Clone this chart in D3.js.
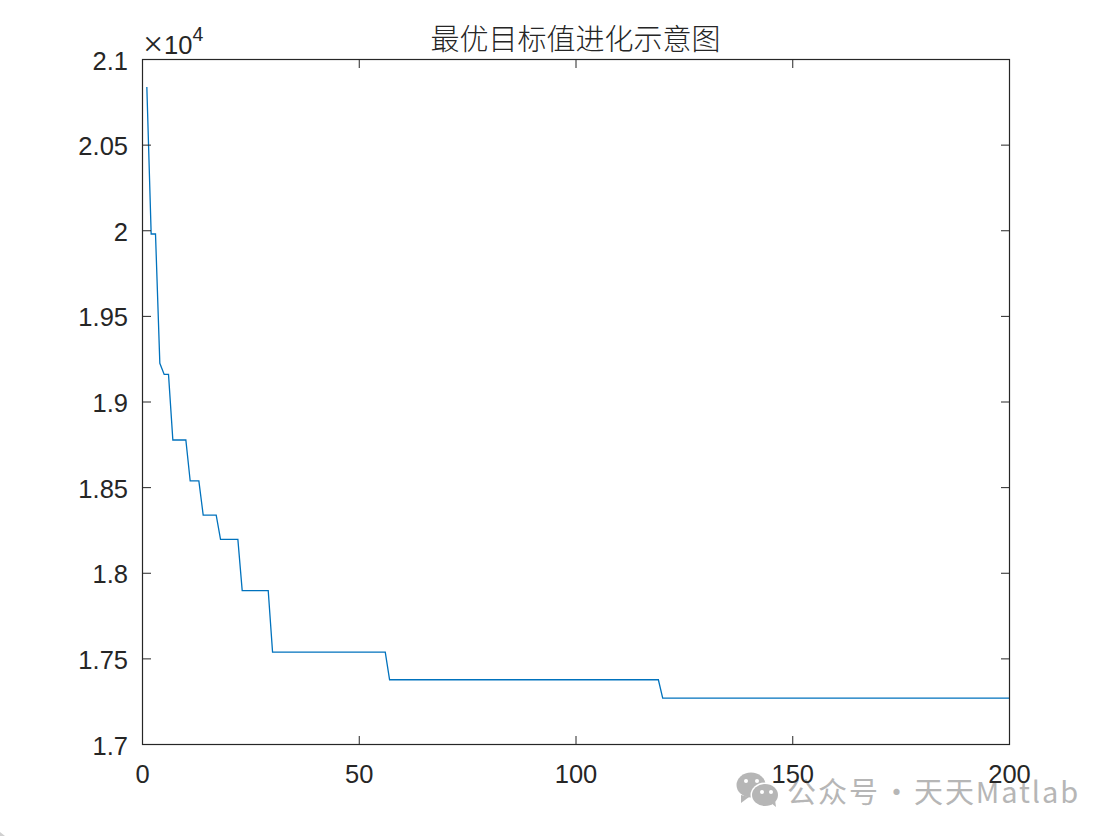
<!DOCTYPE html>
<html><head><meta charset="utf-8">
<script src="https://cdn.jsdelivr.net/npm/d3@7"></script>
<style>html,body{margin:0;padding:0;background:#fff}svg{display:block}</style>
</head><body><div id="c"></div>
<script>
const titleText = "最优目标值进化示意图";
const watermarkLeft = "公众号";
const watermarkDot = "·";
const watermarkRight = "天天Matlab";
const generations = [1,2,3,4,5,6,7,10,11,13,14,17,18,22,23,29,30,56,57,119,120,200];
const bestValues = [20839,19981,19981,19226,19161,19161,18778,18778,18539,18539,18340,18340,18198,18198,17899,17899,17540,17540,17378,17378,17271,17271];
const xTicks = [0,50,100,150,200];
const yTicks = [17000,17500,18000,18500,19000,19500,20000,20500,21000];
const yTickLabels = ["1.7","1.75","1.8","1.85","1.9","1.95","2","2.05","2.1"];

const W=1114,H=836,m={l:142.5,r:1009.5,t:59.5,b:744.5};
const x=d3.scaleLinear().domain([0,200]).range([m.l,m.r]);
const y=d3.scaleLinear().domain([17000,21000]).range([m.b,m.t]);
const svg=d3.select("#c").append("svg").attr("width",W).attr("height",H);
const ink="#262626",font="'Liberation Sans',Arial,sans-serif",fs=25.5,cjk="'Noto Sans CJK SC'",wm="#b6b6b6";
svg.append("rect").attr("width",W).attr("height",H).attr("fill","#fff");

// watermark (sits under the tick labels)
const w=svg.append("g").attr("fill",wm);
w.append("ellipse").attr("cx",751).attr("cy",785).attr("rx",14.5).attr("ry",12.5);
w.append("path").attr("d","M741 795L741 803L749 797Z");
w.append("ellipse").attr("cx",765).attr("cy",795).attr("rx",14.5).attr("ry",12.5).attr("fill","#fff");
w.append("ellipse").attr("cx",765).attr("cy",795).attr("rx",13).attr("ry",11);
w.append("path").attr("d","M771 803L776 807L775 800Z");
[[746,781],[757,781],[762,792],[771,792]].forEach(p=>w.append("circle").attr("cx",p[0]).attr("cy",p[1]).attr("r",2).attr("fill","#fff"));
const wt=(tx,t,ls)=>w.append("text").attr("x",tx).attr("y",803).attr("font-family",cjk).attr("font-size",29).attr("letter-spacing",ls).text(t);
wt(787,watermarkLeft,2); wt(882,watermarkDot,0); wt(914,watermarkRight,1.9);
svg.append("path").attr("d","M0 832L0 836L5 836Z").attr("fill","#d0d0d0");

const line=d3.line().x((d,i)=>x(generations[i])).y(d=>y(d));
svg.append("path").datum(bestValues).attr("d",line).attr("fill","none").attr("stroke","#0072BD").attr("stroke-width",1.3);

svg.append("rect").attr("x",m.l).attr("y",m.t).attr("width",m.r-m.l).attr("height",m.b-m.t).attr("fill","none").attr("stroke",ink).attr("stroke-width",1.2);

const tl=8.5;
const gx=svg.append("g").selectAll("g").data(xTicks).join("g");
gx.append("line").attr("x1",d=>x(d)).attr("x2",d=>x(d)).attr("y1",m.b).attr("y2",m.b-tl).attr("stroke",ink);
gx.append("line").attr("x1",d=>x(d)).attr("x2",d=>x(d)).attr("y1",m.t).attr("y2",m.t+tl).attr("stroke",ink);
gx.append("text").attr("x",d=>x(d)).attr("y",783).attr("text-anchor","middle").attr("font-family",font).attr("font-size",fs).attr("fill",ink).text(d=>d);
const gy=svg.append("g").selectAll("g").data(yTicks).join("g");
gy.append("line").attr("y1",d=>y(d)).attr("y2",d=>y(d)).attr("x1",m.l).attr("x2",m.l+tl).attr("stroke",ink);
gy.append("line").attr("y1",d=>y(d)).attr("y2",d=>y(d)).attr("x1",m.r).attr("x2",m.r-tl).attr("stroke",ink);
gy.append("text").attr("x",128).attr("y",d=>y(d)+10).attr("text-anchor","end").attr("font-family",font).attr("font-size",fs).attr("fill",ink).text((d,i)=>yTickLabels[i]);

svg.append("text").attr("x",143).attr("y",56).attr("font-family","'Liberation Serif'").attr("font-size",36).attr("font-weight",300).attr("fill",ink).text("×");
svg.append("text").attr("x",164).attr("y",54).attr("font-family",font).attr("font-size",fs).attr("fill",ink)
  .text("10").append("tspan").attr("dy",-13).attr("font-size",19.5).text("4");
svg.append("text").attr("x",575.5).attr("y",50).attr("text-anchor","middle").attr("font-family",cjk).attr("font-size",29).attr("font-weight",300).attr("fill",ink).text(titleText);
</script></body></html>
